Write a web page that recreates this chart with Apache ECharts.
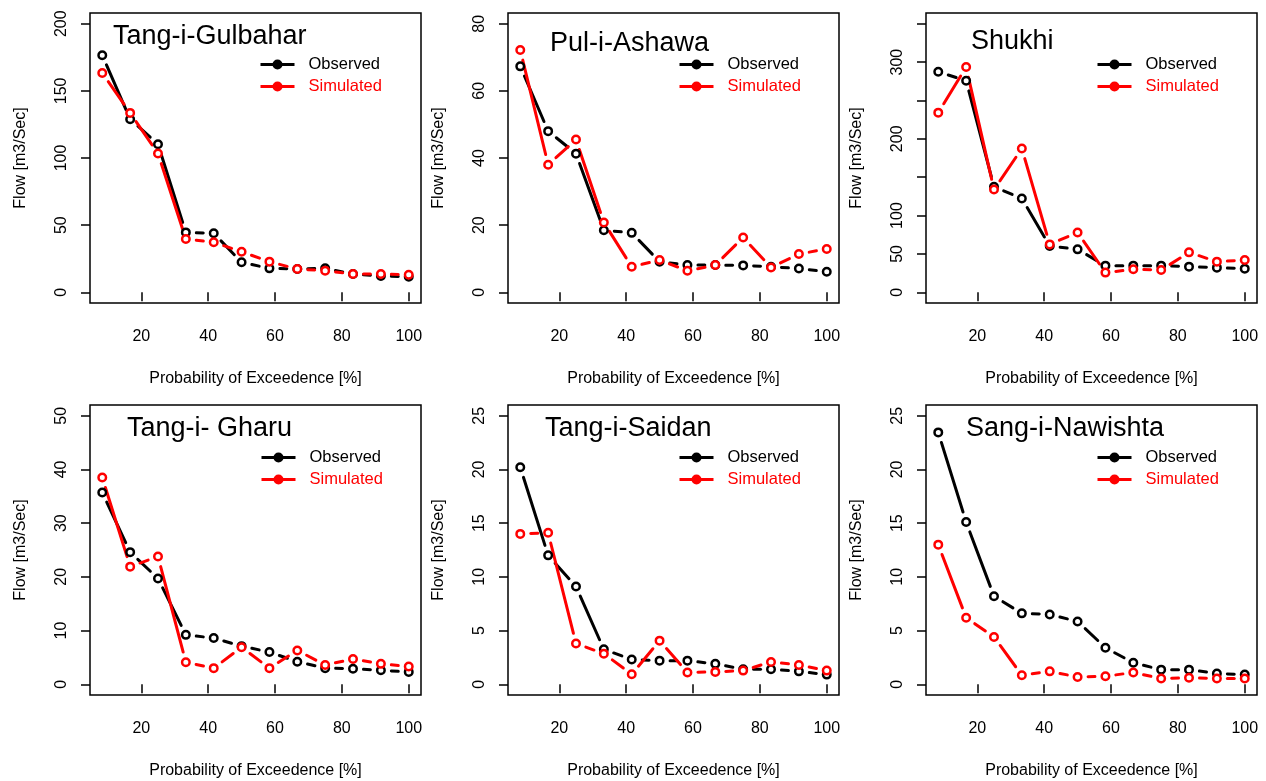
<!DOCTYPE html>
<html>
<head>
<meta charset="utf-8">
<title>Flow duration curves</title>
<script src="https://cdn.jsdelivr.net/npm/echarts@6/dist/echarts.min.js"></script>
<style>
  html, body { margin: 0; padding: 0; background: #fff; }
  #chart { width: 1266px; height: 781px; }
</style>
</head>
<body>
<div id="chart"></div>
<script>
// ---- data ----
var exceedance = [8.33, 16.67, 25, 33.33, 41.67, 50, 58.33, 66.67, 75, 83.33, 91.67, 100];
var stations = ['Tang-i-Gulbahar', 'Pul-i-Ashawa', 'Shukhi', 'Tang-i- Gharu', 'Tang-i-Saidan', 'Sang-i-Nawishta'];

var obsGulbahar = [176.5, 128.9, 110.3, 44.6, 43.9, 22.3, 17.8, 17.3, 17.8, 13.6, 12.1, 11.6];
var simGulbahar = [163.3, 133.6, 103.3, 39.7, 37.2, 30.2, 22.8, 17.3, 16.1, 13.6, 13.6, 13.1];
var obsAshawa = [67.3, 48.0, 41.3, 18.5, 17.7, 9.1, 8.1, 8.1, 8.0, 7.6, 7.1, 6.1];
var simAshawa = [72.2, 38.0, 45.5, 20.8, 7.6, 9.6, 6.4, 8.1, 16.3, 7.4, 11.4, 12.9];
var obsShukhi = [287.4, 275.7, 137.4, 122.2, 60.3, 55.9, 34.7, 34.7, 34.7, 33.4, 32.1, 30.8];
var simShukhi = [234.1, 293.5, 133.9, 187.3, 62.4, 78.0, 25.6, 29.9, 29.0, 52.0, 39.9, 42.0];
var obsGharu = [35.7, 24.6, 19.7, 9.2, 8.6, 7.1, 6.0, 4.2, 3.0, 2.9, 2.6, 2.3];
var simGharu = [38.5, 21.9, 23.8, 4.1, 3.0, 6.9, 3.0, 6.3, 3.6, 4.7, 3.8, 3.3];
var obsSaidan = [20.2, 12.0, 9.1, 3.25, 2.3, 2.2, 2.2, 1.9, 1.4, 1.4, 1.2, 0.9];
var simSaidan = [14.0, 14.1, 3.8, 2.85, 0.93, 4.06, 1.1, 1.15, 1.27, 2.08, 1.8, 1.27];
var obsNawishta = [23.45, 15.1, 8.2, 6.6, 6.5, 5.85, 3.4, 2.0, 1.36, 1.36, 1.0, 0.9];
var simNawishta = [13.0, 6.2, 4.4, 0.84, 1.2, 0.68, 0.74, 1.1, 0.53, 0.6, 0.53, 0.53];

var observed = [obsGulbahar, obsAshawa, obsShukhi, obsGharu, obsSaidan, obsNawishta];
var simulated = [simGulbahar, simAshawa, simShukhi, simGharu, simSaidan, simNawishta];

// axis limits and tick labels
var yMax = [200, 80, 350, 50, 25, 25];
var yStep = [50, 20, 50, 10, 5, 5];
var yLabels = [
  [0, 50, 100, 150, 200],
  [0, 20, 40, 60, 80],
  [0, 50, 100, 200, 300],
  [0, 10, 20, 30, 40, 50],
  [0, 5, 10, 15, 20, 25],
  [0, 5, 10, 15, 20, 25]
];
var xTicks = [20, 40, 60, 80, 100];

// ---- layout ----
var FONT = 'Liberation Sans, Arial, sans-serif';
var boxLeft = [90, 508, 926, 90, 508, 926];
var boxTop = [13, 13, 13, 405, 405, 405];
var boxW = 331, boxH = 290;
var titlePos = [[113, 23], [550, 30], [971, 28], [127, 415], [545, 415], [966, 415]];
var legendPos = [[259, 56], [678, 56], [1096, 56], [260, 449], [678, 449], [1096, 449]];
var GAP = 10.5;

var xLo = exceedance[0], xHi = exceedance[exceedance.length - 1];
var xMin = xLo - 0.04 * (xHi - xLo), xMax = xHi + 0.04 * (xHi - xLo);

function pairs(ys) {
  return ys.map(function (y, i) { return [exceedance[i], y]; });
}
function segments(ys) {
  var out = [];
  for (var i = 0; i < ys.length - 1; i++) {
    out.push([exceedance[i], ys[i], exceedance[i + 1], ys[i + 1]]);
  }
  return out;
}
function gappedLine(color) {
  // R type="b": line segments stop short of each point
  return function (params, api) {
    var a = api.coord([api.value(0), api.value(1)]);
    var b = api.coord([api.value(2), api.value(3)]);
    var dx = b[0] - a[0], dy = b[1] - a[1];
    var len = Math.sqrt(dx * dx + dy * dy);
    if (len <= 2 * GAP) return null;
    var ux = dx / len, uy = dy / len;
    return {
      type: 'line',
      shape: { x1: a[0] + ux * GAP, y1: a[1] + uy * GAP, x2: b[0] - ux * GAP, y2: b[1] - uy * GAP },
      style: { stroke: color, lineWidth: 3, lineCap: 'round' }
    };
  };
}
function ticksFor(i) {
  var t = [];
  for (var v = 0; v <= yMax[i]; v += yStep[i]) t.push(v);
  return t;
}

var grids = [], xAxes = [], yAxes = [], titles = [], legends = [], series = [];

stations.forEach(function (name, i) {
  grids.push({
    left: boxLeft[i], top: boxTop[i], width: boxW, height: boxH,
    show: true, borderColor: '#000', borderWidth: 1.5, backgroundColor: 'transparent'
  });
  xAxes.push({
    gridIndex: i, type: 'value', min: xMin, max: xMax,
    name: 'Probability of Exceedence [%]', nameLocation: 'middle', nameGap: 68,
    nameTextStyle: { fontSize: 16, color: '#000', fontFamily: FONT },
    axisLine: { show: false },
    axisTick: { show: true, inside: false, length: 9, lineStyle: { color: '#000', width: 1.5 }, customValues: xTicks },
    axisLabel: { fontSize: 16, color: '#000', margin: 26, fontFamily: FONT, customValues: xTicks },
    splitLine: { show: false }
  });
  yAxes.push({
    gridIndex: i, type: 'value', min: -0.04 * yMax[i], max: 1.04 * yMax[i],
    name: 'Flow [m3/Sec]', nameLocation: 'middle', nameGap: 61, nameRotate: 90,
    nameTextStyle: { fontSize: 16, color: '#000', fontFamily: FONT },
    axisLine: { show: false },
    axisTick: { show: true, inside: false, length: 9, lineStyle: { color: '#000', width: 1.5 }, customValues: ticksFor(i) },
    axisLabel: { fontSize: 16, color: '#000', margin: 20, rotate: 90, fontFamily: FONT, customValues: yLabels[i] },
    splitLine: { show: false }
  });
  titles.push({
    text: name, left: titlePos[i][0], top: titlePos[i][1], padding: 0,
    textStyle: { fontSize: 27, fontWeight: 'normal', color: '#000', fontFamily: FONT }
  });
  legends.push({
    orient: 'vertical', left: legendPos[i][0], top: legendPos[i][1], padding: 0,
    itemWidth: 34, itemHeight: 10, itemGap: 5, selectedMode: false,
    textStyle: { fontSize: 16.5, fontFamily: FONT, padding: [0, 0, 0, 9] },
    data: [
      { name: 'Observed', itemStyle: { color: '#000', borderColor: '#000' }, lineStyle: { color: '#000', width: 3, opacity: 1 }, textStyle: { color: '#000' } },
      { name: 'Simulated', itemStyle: { color: '#ff0000', borderColor: '#ff0000' }, lineStyle: { color: '#ff0000', width: 3, opacity: 1 }, textStyle: { color: '#ff0000' } }
    ]
  });

  [['Observed', '#000', observed[i]], ['Simulated', '#ff0000', simulated[i]]].forEach(function (s) {
    series.push({
      type: 'custom', xAxisIndex: i, yAxisIndex: i, silent: true,
      data: segments(s[2]), encode: { x: [0, 2], y: [1, 3] },
      renderItem: gappedLine(s[1])
    });
    series.push({
      name: s[0], type: 'line', xAxisIndex: i, yAxisIndex: i, silent: true,
      data: pairs(s[2]),
      symbol: 'circle', symbolSize: 7.5,
      itemStyle: { color: '#fff', borderColor: s[1], borderWidth: 2.5 },
      lineStyle: { opacity: 0 },
      emphasis: { disabled: true }
    });
  });
});

var chart = echarts.init(document.getElementById('chart'), null, { renderer: 'canvas' });
chart.setOption({
  animation: false,
  backgroundColor: '#fff',
  textStyle: { fontFamily: FONT },
  title: titles,
  legend: legends,
  grid: grids,
  xAxis: xAxes,
  yAxis: yAxes,
  series: series
});
window.addEventListener('resize', chart.resize);
</script>
</body>
</html>
